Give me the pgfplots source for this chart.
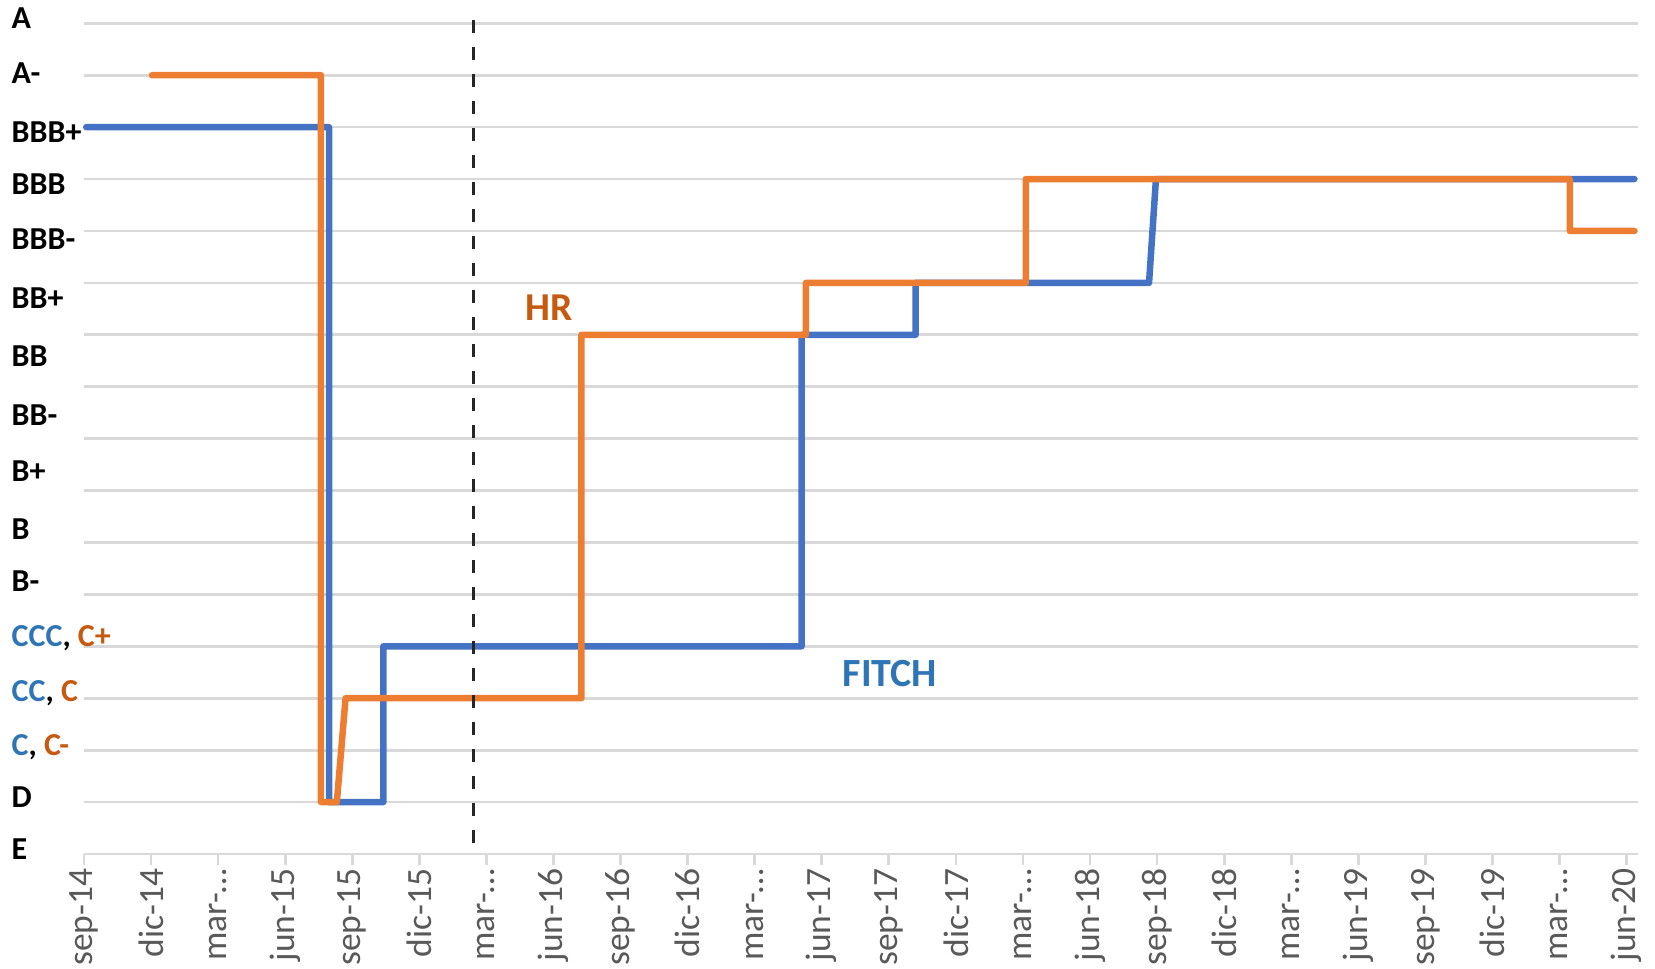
\documentclass[border=0pt]{standalone}
\usepackage{pgfplots}
\pgfplotsset{compat=1.18}
\usepackage{fontspec}
\setmainfont{Carlito}
\definecolor{fitch}{HTML}{4472C4}
\definecolor{hr}{HTML}{ED7D31}
\definecolor{fitchtxt}{HTML}{2E75B6}
\definecolor{hrtxt}{HTML}{C55A11}
\definecolor{gridgray}{HTML}{D9D9D9}
\definecolor{ticklab}{HTML}{595959}
\definecolor{dashcol}{HTML}{262626}
\begin{document}
\begin{tikzpicture}
\path (-84pt,-114pt) rectangle (1571pt,854pt);
\begin{axis}[
  at={(0pt,0pt)}, anchor=south west,
  width=1553.7pt, height=830.7pt, scale only axis,
  xmin=0, xmax=69.5, ymin=0, ymax=16,
  clip=false,
  axis x line*=bottom, axis y line*=left,
  x axis line style={draw=gridgray, line width=2.7pt, -},
  y axis line style={draw=none, -},
  xtick={0,3,...,69},
  xticklabels={sep-14,dic-14,mar-…,jun-15,sep-15,dic-15,mar-…,jun-16,sep-16,dic-16,mar-…,jun-17,sep-17,dic-17,mar-…,jun-18,sep-18,dic-18,mar-…,jun-19,sep-19,dic-19,mar-…,jun-20},
  xticklabel style={rotate=90, anchor=east, font=\fontsize{35.5}{42}\selectfont, text=ticklab},
  tick align=outside,
  major tick length=11pt,
  xtick style={draw=gridgray, line width=2.7pt},
  ytick={0,...,16}, yticklabels={},
  ytick style={draw=none},
  ymajorgrids, grid style={draw=gridgray, line width=2.7pt},
]
\addplot[fitch, line width=6.5pt, line join=round, line cap=round, mark=none] coordinates {
(0.1,14) (10.96,14) (10.96,1) (13.39,1) (13.39,4) (32.1,4) (32.1,10) (37.2,10) (37.2,11) (47.64,11) (47.95,13) (69.35,13)};
\addplot[hr, line width=6.5pt, line join=round, line cap=round, mark=none] coordinates {
(3.04,15) (10.6,15) (10.6,1) (11.31,1) (11.70,3) (22.25,3) (22.25,10) (32.29,10) (32.29,11) (42.13,11) (42.13,13) (66.46,13) (66.46,12) (69.35,12)};
\addplot[dashcol, line width=3.3pt, dash pattern=on 13pt off 14pt, mark=none] coordinates {(17.41,16.06) (17.41,-0.05)};
\end{axis}
\begin{scope}[every node/.style={anchor=base west, inner sep=0pt, font=\fontsize{32}{38}\selectfont\bfseries}]
\node at (-72.5pt,-5.3pt) {E};
\node at (-72.5pt,46.3pt) {D};
\node at (-72.5pt,98pt) {\textcolor{fitchtxt}{C}, \textcolor{hrtxt}{C-}};
\node at (-72.5pt,152.3pt) {\textcolor{fitchtxt}{CC}, \textcolor{hrtxt}{C}};
\node at (-72.5pt,207.3pt) {\textcolor{fitchtxt}{CCC}, \textcolor{hrtxt}{C+}};
\node at (-72.5pt,262.8pt) {B-};
\node at (-72.5pt,314.8pt) {B};
\node at (-72.5pt,372.8pt) {B+};
\node at (-72.5pt,428.8pt) {BB-};
\node at (-72.5pt,487.8pt) {BB};
\node at (-72.5pt,545.8pt) {BB+};
\node at (-72.5pt,604pt) {BBB-};
\node at (-72.5pt,659pt) {BBB};
\node at (-72.5pt,711.5pt) {BBB+};
\node at (-72.5pt,770pt) {A-};
\node at (-72.5pt,825pt) {A};
\end{scope}
\node[anchor=base, inner sep=0pt, font=\fontsize{39.5}{46}\selectfont\bfseries, text=hrtxt] at (465pt,533pt) {HR};
\node[anchor=base, inner sep=0pt, font=\fontsize{40}{46}\selectfont\bfseries, text=fitchtxt] at (806pt,167.7pt) {FITCH};
\end{tikzpicture}
\end{document}
